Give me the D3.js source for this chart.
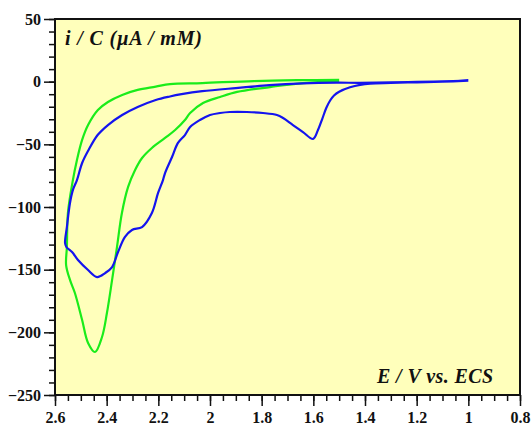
<!DOCTYPE html>
<html>
<head>
<meta charset="utf-8">
<script src="https://cdn.jsdelivr.net/npm/d3@7"></script>
<style>
  body { margin: 0; background: #fff; }
  svg { display: block; }
  .tick text { font-family: "Liberation Serif", serif; font-weight: bold; font-size: 16px; fill: #111; }
  .lbl { font-family: "Liberation Serif", serif; font-weight: bold; font-style: italic; font-size: 20px; fill: #111; }
</style>
</head>
<body>
<svg id="chart" width="531" height="430"></svg>
<script>
// tick values and labels
const xTicks = [2.6, 2.4, 2.2, 2.0, 1.8, 1.6, 1.4, 1.2, 1.0, 0.8];
const xTickLabels = ['2.6', '2.4', '2.2', '2', '1.8', '1.6', '1.4', '1.2', '1', '0.8'];
const yTicks = [50, 0, -50, -100, -150, -200, -250];

// blue voltammogram (E in V, i/C in uA/mM)
const blueE = [1.00, 1.10, 1.20, 1.30, 1.42, 1.51, 1.64, 1.77, 1.85, 1.90, 2.03, 2.11, 2.155, 2.21, 2.28, 2.34,
  2.395, 2.435, 2.47, 2.495, 2.515, 2.53, 2.542, 2.554, 2.561,
  2.556, 2.534, 2.511, 2.472, 2.437, 2.406, 2.379, 2.356, 2.329, 2.302, 2.263, 2.225, 2.201,
  2.182, 2.174, 2.147, 2.124, 2.097, 2.077, 2.039, 2.0, 1.961, 1.923, 1.857, 1.795, 1.741,
  1.717, 1.679, 1.640, 1.601, 1.582, 1.566, 1.55, 1.535, 1.52, 1.50, 1.458, 1.419, 1.38, 1.30, 1.20, 1.10, 1.0];
const blueI = [0.8, 0.3, -0.2, -0.6, -0.9, -0.8, -1.3, -2.7, -4.2, -5.1, -7.6, -10.0, -11.8, -14.6, -20.2, -26.6,
  -34.6, -42.6, -54.5, -64.9, -78.5, -86.0, -96.8, -116.0, -128.7,
  -131.9, -135.9, -142.3, -150.3, -155.9, -152.7, -147.9, -135.9, -123.9, -118.3, -116.0, -104.8, -88.8,
  -78.5, -72.9, -60.1, -48.9, -42.6, -36.2, -30.6, -26.6, -25.0, -24.2, -24.2, -25.0, -26.6,
  -29.0, -34.6, -40.2, -45.7, -38.6, -30.0, -21.0, -15.0, -11.0, -8.0, -4.5, -2.5, -1.5, -1.0, -0.5, 0.0, 0.8];

// green voltammogram
const greenE = [1.50, 1.65, 1.83, 2.03, 2.155, 2.21, 2.28, 2.34, 2.395, 2.434, 2.472, 2.495, 2.515, 2.532,
  2.55, 2.554, 2.557,
  2.542, 2.523, 2.495, 2.472, 2.445, 2.418, 2.399, 2.379, 2.36, 2.341, 2.317, 2.290, 2.263, 2.225,
  2.174, 2.135, 2.097, 2.077, 2.027, 1.961, 1.895, 1.768, 1.640, 1.50];
const greenI = [1.5, 1.2, 0.5, -1.1, -1.9, -4.0, -6.6, -10.6, -16.2, -22.6, -34.6, -46.5, -62.5, -80.0,
  -104.8, -131.9, -146.3,
  -158.2, -168.6, -190.2, -208.5, -215.7, -203.7, -184.6, -158.2, -131.9, -104.8, -84.0, -70.5, -60.9, -52.9,
  -44.9, -38.6, -30.6, -25.0, -17.0, -12.2, -8.2, -4.3, -1.1, 0.0];

const margin = { top: 19, right: 11, bottom: 35, left: 55 };
const width = 531 - margin.left - margin.right;
const height = 430 - margin.top - margin.bottom;

const svg = d3.select('#chart');
const g = svg.append('g').attr('transform', `translate(${margin.left},${margin.top})`);

const x = d3.scaleLinear().domain([2.6, 0.8]).range([0, width]);
const y = d3.scaleLinear().domain([50, -250]).range([0, height]);

g.append('rect')
  .attr('width', width)
  .attr('height', height)
  .attr('fill', '#ffffbb');

// minor ticks
const xMinor = d3.range(0, 37).map(k => 2.6 - k * 0.05);
const yMinor = d3.range(0, 31).map(k => 50 - k * 10);

g.append('g')
  .attr('transform', `translate(0,${height})`)
  .call(d3.axisBottom(x).tickValues(xMinor).tickSize(6).tickFormat(''))
  .call(a => a.select('.domain').remove());
g.append('g')
  .call(d3.axisLeft(y).tickValues(yMinor).tickSize(6).tickFormat(''))
  .call(a => a.select('.domain').remove());

// major ticks + labels
g.append('g')
  .attr('transform', `translate(0,${height})`)
  .call(d3.axisBottom(x).tickValues(xTicks).tickSize(11).tickPadding(6)
    .tickFormat((d, i) => xTickLabels[i]))
  .call(a => a.select('.domain').remove());
g.append('g')
  .call(d3.axisLeft(y).tickValues(yTicks).tickSize(11).tickPadding(3))
  .call(a => a.select('.domain').remove());

g.selectAll('.tick line').attr('stroke', '#111').attr('stroke-width', 1.5);

const line = d3.line()
  .x(d => x(d[0]))
  .y(d => y(d[1]))
  .curve(d3.curveCatmullRom.alpha(0.5));

g.append('path')
  .datum(greenE.map((e, i) => [e, greenI[i]]))
  .attr('d', line)
  .attr('fill', 'none')
  .attr('stroke', '#1aec1a')
  .attr('stroke-width', 2.2);

g.append('path')
  .datum(blueE.map((e, i) => [e, blueI[i]]))
  .attr('d', line)
  .attr('fill', 'none')
  .attr('stroke', '#1414ee')
  .attr('stroke-width', 2.2);

// frame
g.append('rect')
  .attr('width', width)
  .attr('height', height)
  .attr('fill', 'none')
  .attr('stroke', '#111')
  .attr('stroke-width', 2);

g.append('text')
  .attr('class', 'lbl')
  .attr('x', 10)
  .attr('y', 26)
  .attr('textLength', 137)
  .attr('lengthAdjust', 'spacing')
  .text('i / C (\u00B5A / mM)');

g.append('text')
  .attr('class', 'lbl')
  .attr('x', width - 143)
  .attr('y', height - 12)
  .attr('textLength', 116)
  .attr('lengthAdjust', 'spacing')
  .text('E / V vs. ECS');
</script>
</body>
</html>
